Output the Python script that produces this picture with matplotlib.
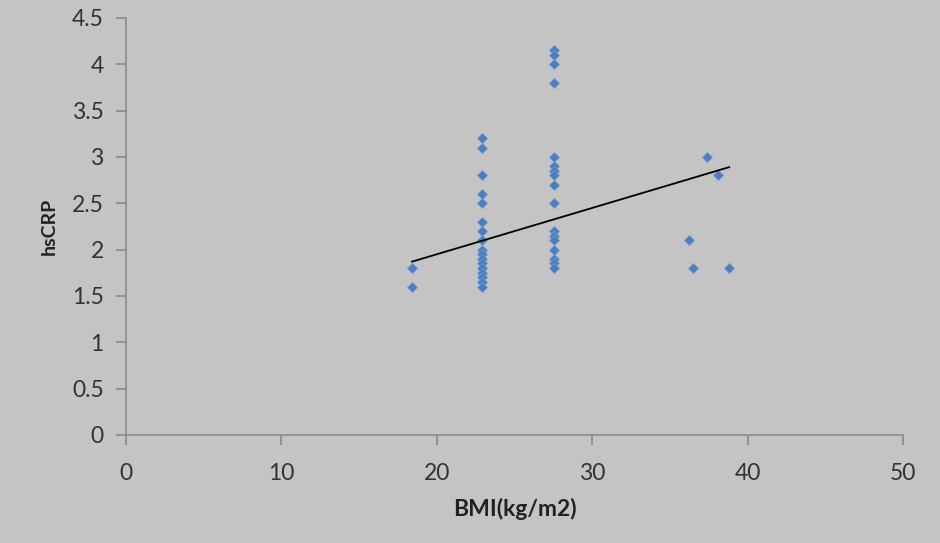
import numpy as np
import matplotlib
matplotlib.use("Agg")
from matplotlib import pyplot as plt

# BMI / hsCRP points
bmi_low = [18.4, 18.4]
crp_low = [1.8, 1.6]

bmi_normal = [22.9] * 17
crp_normal = [3.2, 3.1, 2.8, 2.6, 2.5, 2.3, 2.2, 2.1, 2.0, 1.95,
              1.9, 1.85, 1.8, 1.75, 1.7, 1.65, 1.6]

bmi_over = [27.5] * 17
crp_over = [4.15, 4.1, 4.0, 3.8, 3.0, 2.9, 2.85, 2.8, 2.7, 2.5,
            2.2, 2.15, 2.1, 2.0, 1.9, 1.85, 1.8]

bmi_obese = [36.2, 36.5, 37.4, 38.1, 38.8]
crp_obese = [2.1, 1.8, 3.0, 2.8, 1.8]

# linear trend line as drawn in the chart
trend_slope = 0.05
trend_intercept = 0.95

x_ticks = [0, 10, 20, 30, 40, 50]
y_ticks = [0, 0.5, 1, 1.5, 2, 2.5, 3, 3.5, 4, 4.5]

bg = "#c4c4c4"
plt.rcParams["font.family"] = ["Lato", "DejaVu Sans"]

fig = plt.figure(figsize=(9.4, 5.43), dpi=100, facecolor=bg)
ax = fig.add_axes([0.134, 0.199, 0.827, 0.768], facecolor=bg)

bmi = np.array(bmi_low + bmi_normal + bmi_over + bmi_obese)
crp = np.array(crp_low + crp_normal + crp_over + crp_obese)
ax.plot(bmi, crp, linestyle="none", marker="D", markersize=5,
        color="#4a7ebf", markeredgecolor="#7099cc", markeredgewidth=0.6,
        zorder=3)

xs = np.array([bmi.min(), bmi.max()])
ax.plot(xs, trend_slope * xs + trend_intercept, color="black", lw=1.3, zorder=4)

ax.set_xlim(0, 50)
ax.set_ylim(0, 4.5)
ax.set_xticks(x_ticks)
ax.set_yticks(y_ticks)
ax.set_xticklabels([str(t) for t in x_ticks])
ax.set_yticklabels([f"{t:g}" for t in y_ticks])

for side in ("top", "right"):
    ax.spines[side].set_visible(False)
for side in ("left", "bottom"):
    ax.spines[side].set_color("#8a8a8a")
    ax.spines[side].set_linewidth(1.2)

ax.tick_params(axis="both", colors="#8a8a8a", length=7, width=1.2,
               labelcolor="#333333", labelsize=16.5)
ax.tick_params(axis="y", pad=9)
ax.tick_params(axis="x", pad=13)

ax.set_xlabel("BMI(kg/m2)", fontsize=16.5, fontweight="bold",
              color="#222222", labelpad=10)
ax.set_ylabel("hsCRP", fontsize=14, fontweight="bold",
              color="#222222", labelpad=10)

fig.savefig("out.png", dpi=100, facecolor=bg)
